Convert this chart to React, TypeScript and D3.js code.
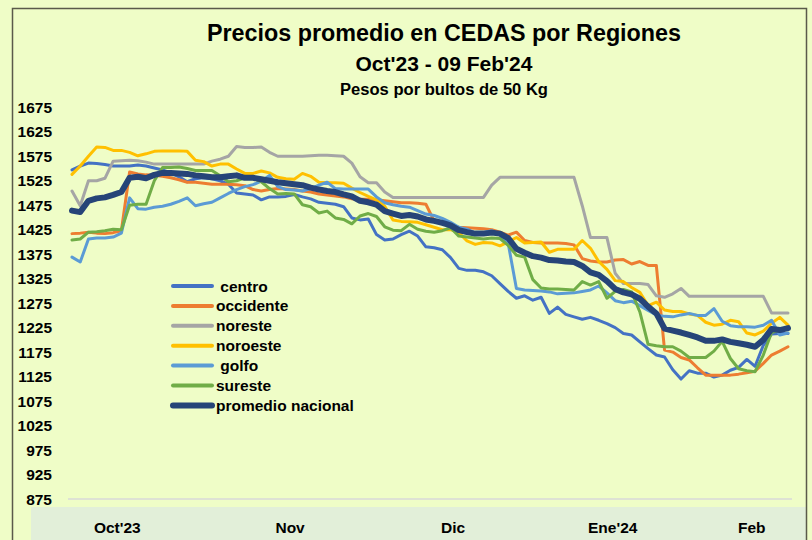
import React from "react";
import * as d3 from "d3";

// ---- Data (daily averages, Oct'23 – 09 Feb'24) ----
const centro = [1547,1555,1561,1560,1558,1555,1555,1555,1557,1555,1551,1547,1541,1533,1523,1529,1531,1529,1525,1518,1500,1498,1496,1486,1492,1492,1493,1497,1492,1488,1481,1479,1477,1472,1449,1445,1447,1415,1404,1406,1415,1422,1412,1390,1388,1384,1368,1346,1342,1342,1339,1331,1315,1299,1285,1290,1281,1287,1254,1267,1252,1247,1242,1246,1240,1233,1225,1213,1210,1196,1182,1169,1165,1139,1120,1137,1132,1132,1124,1128,1138,1144,1160,1146,1189,1212,1213,1213];
const occidente = [1417,1418,1420,1418,1417,1419,1423,1543,1539,1537,1536,1534,1531,1527,1522,1522,1520,1518,1518,1518,1517,1515,1507,1504,1507,1509,1508,1507,1504,1502,1498,1496,1494,1492,1488,1487,1487,1486,1484,1482,1480,1480,1479,1477,1443,1437,1434,1430,1429,1428,1427,1425,1420,1414,1420,1403,1399,1398,1398,1398,1397,1394,1366,1361,1359,1359,1363,1364,1355,1360,1352,1352,1179,1175,1164,1159,1143,1128,1128,1128,1128,1130,1133,1136,1152,1169,1177,1186];
const noreste = [1504,1474,1525,1525,1530,1565,1566,1567,1566,1563,1559,1559,1559,1559,1559,1559,1559,1565,1569,1575,1595,1593,1593,1594,1583,1575,1575,1575,1575,1576,1577,1577,1576,1575,1561,1533,1521,1521,1502,1491,1491,1491,1491,1491,1491,1491,1491,1491,1491,1491,1491,1516,1532,1532,1532,1532,1532,1532,1532,1532,1532,1532,1474,1409,1409,1409,1336,1315,1315,1315,1313,1290,1287,1294,1305,1289,1289,1289,1289,1289,1289,1289,1289,1289,1289,1255,1255,1255];
const noroeste = [1538,1555,1575,1594,1593,1587,1587,1583,1576,1580,1585,1586,1586,1586,1585,1567,1564,1555,1559,1559,1549,1540,1540,1545,1541,1532,1529,1528,1540,1534,1522,1521,1521,1520,1510,1501,1493,1486,1473,1445,1442,1441,1440,1435,1430,1425,1425,1419,1402,1395,1399,1398,1392,1400,1409,1398,1399,1400,1379,1385,1385,1385,1403,1387,1360,1344,1321,1319,1307,1297,1270,1277,1261,1258,1258,1253,1250,1236,1230,1232,1240,1237,1214,1210,1218,1234,1246,1230];
const golfo = [1369,1359,1406,1408,1408,1410,1418,1490,1468,1467,1471,1473,1477,1483,1490,1474,1478,1481,1490,1499,1507,1513,1517,1524,1536,1513,1507,1506,1504,1509,1516,1522,1509,1508,1508,1508,1508,1492,1480,1476,1473,1471,1464,1457,1454,1448,1440,1430,1426,1418,1420,1423,1415,1397,1305,1302,1301,1300,1298,1294,1295,1296,1299,1302,1310,1296,1280,1276,1279,1270,1260,1251,1248,1247,1251,1254,1250,1250,1264,1238,1229,1227,1227,1226,1230,1240,1210,1214];
const sureste = [1404,1406,1420,1421,1423,1426,1425,1475,1477,1477,1525,1552,1552,1553,1550,1546,1546,1546,1535,1523,1525,1531,1530,1523,1509,1498,1499,1498,1476,1472,1459,1463,1449,1446,1437,1453,1458,1452,1431,1424,1423,1436,1426,1422,1420,1423,1429,1412,1410,1408,1406,1408,1407,1393,1373,1369,1323,1306,1304,1304,1303,1302,1319,1312,1319,1285,1299,1303,1298,1257,1191,1188,1186,1186,1177,1164,1164,1164,1177,1197,1162,1141,1137,1135,1169,1215,1220,1222];
const promedio = [1464,1461,1484,1489,1491,1496,1502,1531,1533,1530,1537,1541,1541,1540,1539,1536,1534,1532,1532,1534,1536,1531,1531,1528,1525,1522,1520,1518,1516,1511,1507,1504,1502,1497,1493,1484,1481,1476,1463,1458,1453,1455,1452,1446,1443,1439,1434,1424,1420,1417,1417,1419,1417,1408,1386,1378,1371,1368,1363,1362,1360,1359,1351,1338,1333,1320,1304,1297,1293,1284,1268,1254,1223,1219,1215,1210,1205,1198,1198,1201,1196,1193,1190,1186,1200,1222,1220,1224];

const seriesNames = ["centro", "occidente", "noreste", "noroeste", "golfo", "sureste", "promedio nacional"];
const legendLabels = [" centro", "occidente", "noreste", "noroeste", " golfo", "sureste", "promedio nacional"];
const seriesValues = [centro, occidente, noreste, noroeste, golfo, sureste, promedio];
const seriesColors = ["#4472C4", "#ED7D31", "#A5A5A5", "#FFC000", "#5B9BD5", "#70AD47", "#264478"];
const seriesWidths = [3, 3, 3, 3, 3, 3, 6];

const monthLabels = ["Oct'23", "Nov", "Dic", "Ene'24", "Feb"];
const monthPos = [5.5, 26.5, 46.3, 65.7, 82.6];

const yTicks = d3.range(875, 1676, 50);

const FONT = "'Liberation Sans', Arial, sans-serif";

export default function App() {
  const n = promedio.length;
  const x = d3.scaleLinear().domain([0, n - 1]).range([72, 788]);
  const y = d3.scaleLinear().domain([875, 1675]).range([499, 107.3]);
  const line = d3
    .line<number>()
    .x((_, i) => x(i))
    .y((d) => y(d));

  return (
    <svg
      width={812}
      height={540}
      style={{ position: "absolute", left: 0, top: 0, background: "#EFFDC7" }}
      fontFamily={FONT}
    >
      <rect x={0} y={0} width={812} height={540} fill="#EFFDC7" />
      {/* bottom band */}
      <rect x={31} y={507} width={776} height={40} fill="#E2EFD9" />
      {/* outer border */}
      <path d="M12.5,560 V8.5 H806.5 V560" fill="none" stroke="#5a5a4a" strokeWidth={1.5} />

      {/* titles */}
      <text x={444} y={41} textAnchor="middle" fontSize={23.5} fontWeight="bold" fill="#000" textLength={474} lengthAdjust="spacingAndGlyphs">
        Precios promedio en CEDAS por Regiones
      </text>
      <text x={444} y={71} textAnchor="middle" fontSize={20.5} fontWeight="bold" fill="#000" textLength={177} lengthAdjust="spacingAndGlyphs">
        Oct'23 - 09 Feb'24
      </text>
      <text x={444} y={95} textAnchor="middle" fontSize={16} fontWeight="bold" fill="#000" textLength={208} lengthAdjust="spacingAndGlyphs">
        Pesos por bultos de 50 Kg
      </text>

      {/* y axis labels */}
      {yTicks.map((t) => (
        <text key={t} x={52} y={y(t)} dy="0.36em" textAnchor="end" fontSize={15.5} fontWeight="bold" fill="#000">
          {t}
        </text>
      ))}
      {/* baseline */}
      <line x1={68} x2={792} y1={y(875)} y2={y(875)} stroke="#D9D9D9" strokeWidth={1.5} />

      {/* month labels */}
      {monthLabels.map((m, i) => (
        <text key={m} x={x(monthPos[i])} y={527} dy="0.36em" textAnchor="middle" fontSize={15.5} fontWeight="bold" fill="#000">
          {m}
        </text>
      ))}

      {/* series */}
      {seriesValues.map((vals, si) => (
        <path
          key={seriesNames[si]}
          d={line(vals) || ""}
          fill="none"
          stroke={seriesColors[si]}
          strokeWidth={seriesWidths[si]}
          strokeLinejoin="round"
          strokeLinecap="round"
        />
      ))}

      {/* legend */}
      {legendLabels.map((lab, i) => {
        const ly = 286 + i * 19.9;
        return (
          <g key={lab}>
            <line x1={173} x2={212} y1={ly} y2={ly} stroke={seriesColors[i]} strokeWidth={i === 6 ? 6 : 4} strokeLinecap="round" />
            <text x={216} y={ly} dy="0.36em" fontSize={15.5} fontWeight="bold" fill="#000" style={{ whiteSpace: "pre" }}>
              {lab}
            </text>
          </g>
        );
      })}
    </svg>
  );
}
